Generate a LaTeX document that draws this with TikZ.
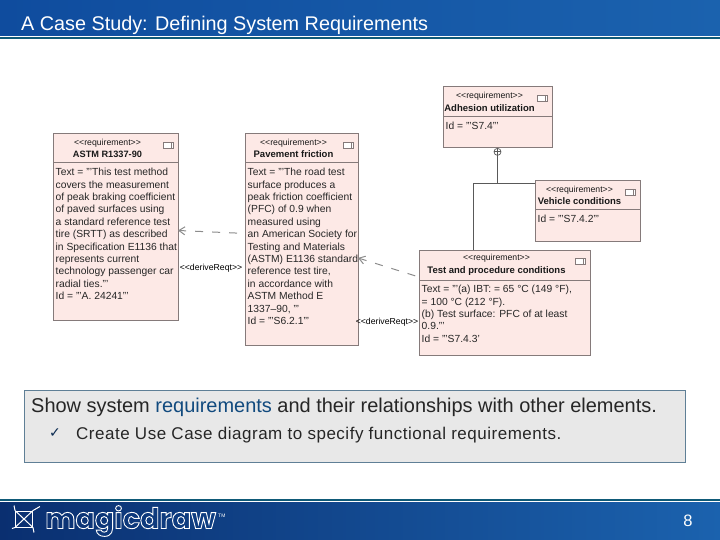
\documentclass[tikz,border=0pt]{standalone}
\usepackage{fontspec}
\setmainfont{Liberation Sans}
\newfontfamily\symbolfont{DejaVu Sans}
\newfontfamily\logofont{Poppins}
\usetikzlibrary{shapes,positioning,arrows.meta}
\definecolor{barblue}{HTML}{0F4C9E}
\definecolor{barlight}{HTML}{1B62AE}
\definecolor{barnavy}{HTML}{0A2F70}
\definecolor{barmid}{HTML}{0C3A80}
\definecolor{barline}{HTML}{0F5A78}
\definecolor{reqpink}{HTML}{FDE9E6}
\definecolor{reqedge}{HTML}{857A7A}
\definecolor{capfill}{HTML}{E8E8E8}
\definecolor{capedge}{HTML}{5F7F96}
\definecolor{capblue}{HTML}{114A7E}
\definecolor{capcheckblue}{HTML}{0A2A50}
\newcommand{\stereo}{<{}<requirement>{}>}
\newcommand{\derivetag}{<{}<deriveReqt>{}>}
\begin{document}
\begin{tikzpicture}
[x=1pt,y=-1pt]
\tikzstyle{reqhead}=[draw=reqedge,fill=reqpink,line width=1pt,rectangle,inner sep=0pt,outer sep=0pt,anchor=north west]
\tikzstyle{reqbody}=[draw=reqedge,fill=reqpink,line width=1pt,rectangle,inner sep=0pt,outer sep=0pt]
\tikzstyle{reqtitle}=[align=center,inner sep=0pt,xshift=-8pt,text=black!90,font=\fontsize{8.7}{12.5}\selectfont]
\tikzstyle{reqtext}=[align=left,anchor=north west,inner xsep=2.5pt,inner ysep=5pt,text=black!85,font=\fontsize{10.3}{12.4}\selectfont]
\tikzstyle{reqicon}=[draw=reqedge,fill=white,line width=0.6pt,rectangle,inner sep=0pt,minimum width=10pt,minimum height=6pt]
\tikzstyle{derive}=[draw=black!45,line width=1pt,dash pattern=on 8pt off 9pt,-{Straight Barb[length=6pt,width=8pt]}]
\tikzstyle{derivelabel}=[inner sep=0pt,font=\fontsize{8.7}{10}\selectfont]
\tikzstyle{link}=[draw=black!65,line width=0.7pt]
\useasboundingbox (0,0) rectangle (720,540);
% title and foot bars
\shade[left color=barblue,right color=barlight] (0,0) rectangle (720,36);
\fill[barline] (0,37.5) rectangle (720,39);
\node (title) [anchor=west,text=white,inner sep=0pt,font=\fontsize{19.8}{24}\selectfont] at (21,25) {A Case Study: Defining System Requirements};
\fill[barline] (0,499) rectangle (720,501);
\shade[left color=barnavy,middle color=barmid,right color=barlight] (0,502) rectangle (720,540);
\node (logotext) [anchor=west,text=white,inner sep=0pt,font=\logofont\bfseries\fontsize{28.6}{30}\selectfont] at (45,521)
    {\special{pdf:code 1 Tr 0.9 w}magicdraw\special{pdf:code 0 Tr}};
\node (logotm) [anchor=west,text=white,inner sep=0pt,font=\fontsize{5}{6}\selectfont] at (218,516) {TM};
\node (logobox) [draw=white,line width=1pt,rectangle,inner sep=0pt,minimum width=17pt,minimum height=16pt] at (24,519) {};
\draw[white,line width=1pt] (logobox.north west) -- (logobox.south east);
\draw[white,line width=1pt] (logobox.south west) -- (logobox.north east) -- ++(7,-4);
\draw[white,line width=1pt] (logobox.south west) -- ++(-3,1) (logobox.north west) -- ++(-1,-5) (logobox.south east) -- ++(1,5);
\node (pagenum) [text=white,inner sep=0pt,font=\fontsize{16.5}{18}\selectfont] at (688,521) {8};
% requirement boxes
\node (astmhead) [reqhead,minimum width=125pt,minimum height=29pt] at (53,134) {};
\node (astmbody) [reqbody,minimum width=125pt,minimum height=157pt,below=0pt of astmhead] {};
\node (pavhead) [reqhead,minimum width=113pt,minimum height=29pt] at (245,134) {};
\node (pavbody) [reqbody,minimum width=113pt,minimum height=182pt,below=0pt of pavhead] {};
\node (adhhead) [reqhead,minimum width=109pt,minimum height=30pt] at (443,87) {};
\node (adhbody) [reqbody,minimum width=109pt,minimum height=31pt,below=0pt of adhhead] {};
\node (vehhead) [reqhead,minimum width=105pt,minimum height=29pt] at (535,181) {};
\node (vehbody) [reqbody,minimum width=105pt,minimum height=31pt,below=0pt of vehhead] {};
\node (testhead) [reqhead,minimum width=171pt,minimum height=30pt] at (419,250) {};
\node (testbody) [reqbody,minimum width=171pt,minimum height=75pt,below=0pt of testhead] {};
\foreach \h in {astm,pav,adh,veh,test} {
    \node (\h icon) [reqicon,below left=8pt and 4pt of \h head.north east] {};
    \draw[reqedge,line width=0.6pt] (\h icon.north east) ++(-3pt,0) -- ++(0,-6pt);
}
\node (astmtitle) [reqtitle] at (astmhead) {\stereo\\\fontsize{9.2}{12.5}\selectfont\textbf{ASTM R1337-90}};
\node (pavtitle) [reqtitle] at (pavhead) {\stereo\\\fontsize{9.5}{12.5}\selectfont\textbf{Pavement friction}};
\node (adhtitle) [reqtitle] at (adhhead) {\stereo\\\fontsize{9.5}{12.5}\selectfont\textbf{Adhesion utilization}};
\node (vehtitle) [reqtitle] at (vehhead) {\stereo\\\fontsize{9.5}{12.5}\selectfont\textbf{Vehicle conditions}};
\node (testtitle) [reqtitle] at (testhead) {\stereo\\\fontsize{9.5}{12.5}\selectfont\textbf{Test and procedure conditions}};
\node (astmtext) [reqtext] at (astmbody.north west) {Text = '''This test method\\covers the measurement\\of peak braking coefficient\\of paved surfaces using\\a standard reference test\\tire (SRTT) as described\\in Specification E1136 that\\represents current\\technology passenger car\\radial ties.'''\\Id = '''A. 24241'''};
\node (pavtext) [reqtext] at (pavbody.north west) {Text = '''The road test\\surface produces a\\peak friction coefficient\\(PFC) of 0.9 when\\measured using\\an American Society for\\Testing and Materials\\(ASTM) E1136 standard\\reference test tire,\\in accordance with\\ASTM Method E\\1337–90, '''\\Id = '''S6.2.1'''};
\node (adhtext) [reqtext] at (adhbody.north west) {Id = '''S7.4'''};
\node (vehtext) [reqtext] at (vehbody.north west) {Id = '''S7.4.2'''};
\node (testtext) [reqtext] at (testbody.north west) {Text = '''(a) IBT: = 65 °C (149 °F),\\= 100 °C (212 °F).\\(b) Test surface: PFC of at least\\0.9.'''\\Id = '''S7.4.3'};
% connectors
\node (adhplus) [draw=black!65,line width=0.7pt,circle,inner sep=0pt,minimum size=7pt,below=0pt of adhbody] {};
\draw[link] (adhplus.north) -- (adhplus.south) (adhplus.west) -- (adhplus.east);
\coordinate (vehtop) at (vehhead.north west |- 0,183);
\coordinate (linkbend) at (473,183);
\draw[link] (adhplus.south) -- (adhplus.south |- vehtop);
\draw[link] (vehtop) -- (linkbend) -- (linkbend |- testhead.north);
\draw[derive,dash phase=9pt] (pavbody.160) -- (astmbody.10);
\draw[derive,dash phase=13pt] (testhead.188) -- (pavbody.-4);
\node (derivea) [derivelabel] at (211,268) {\derivetag};
\node (deriveb) [derivelabel] at (387,322) {\derivetag};
% caption
\node (caption) [draw=capedge,fill=capfill,line width=1pt,rectangle,inner sep=0pt,anchor=north west,minimum width=661pt,minimum height=72pt] at (24,390) {};
\node (capmain) [anchor=west,inner sep=0pt,text=black!85,font=\fontsize{19.96}{24}\selectfont] at (31,407.5) {Show system \textcolor{capblue}{requirements} and their relationships with other elements.};
\node (capcheck) [anchor=west,inner sep=0pt,text=capcheckblue,font=\symbolfont\fontsize{14}{16}\selectfont] at (49,433) {✓};
\node (capsub) [anchor=west,inner sep=0pt,text=black!85,font=\addfontfeature{LetterSpace=3}\fontsize{17}{20}\selectfont] at (76,435.5) {Create Use Case diagram to specify functional requirements.};
\end{tikzpicture}
\end{document}
